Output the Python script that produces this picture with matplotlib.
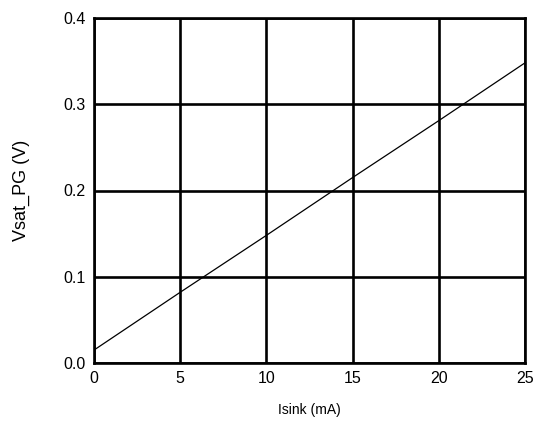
import matplotlib
matplotlib.use("Agg")
import matplotlib.pyplot as plt

isink_ma = [0, 5, 10, 15, 20, 25]
vsat_pg = [0.015, 0.082, 0.148, 0.215, 0.281, 0.348]
x_ticks = [0, 5, 10, 15, 20, 25]
y_ticks = [0.0, 0.1, 0.2, 0.3, 0.4]

plt.rcParams["font.family"] = ["Liberation Sans", "DejaVu Sans"]

fig = plt.figure(figsize=(5.37, 4.25), dpi=100)
ax = fig.add_axes([94 / 537, 1 - 363 / 425, (525 - 94) / 537, (363 - 18) / 425])

ax.plot(isink_ma, vsat_pg, color="black", linewidth=0.9)
ax.set_xlim(0, 25)
ax.set_ylim(0, 0.4)
ax.set_xticks(x_ticks)
ax.set_yticks(y_ticks)
ax.set_yticklabels([f"{v:.1f}" for v in y_ticks])
ax.grid(True, color="black", linewidth=1.9)
for s in ax.spines.values():
    s.set_linewidth(1.9)
ax.tick_params(length=0, labelsize=11.5, pad=6)
ax.set_xlabel("Isink (mA)", fontsize=10, labelpad=12)
ax.set_ylabel("Vsat_PG (V)", fontsize=13, labelpad=24)

fig.savefig("out.png", dpi=100)
